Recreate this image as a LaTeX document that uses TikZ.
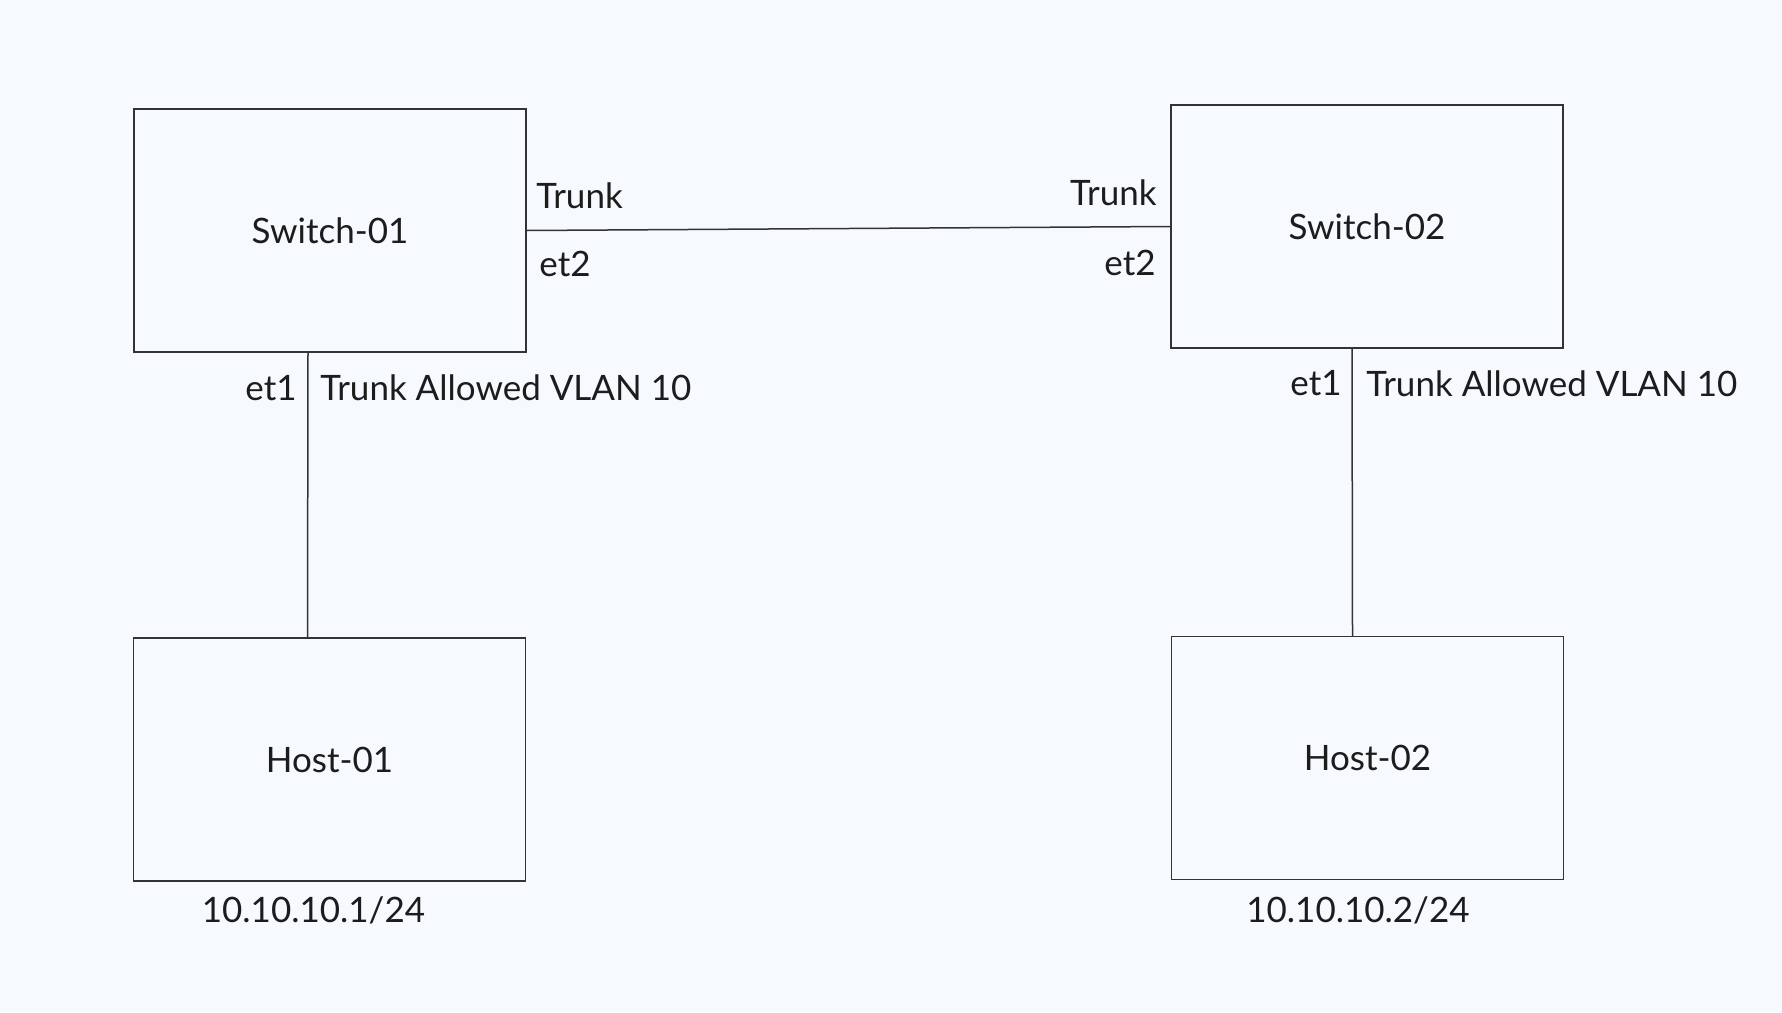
\documentclass[tikz,border=0pt]{standalone}
\usepackage{fontspec}
\setmainfont{Lato}
\definecolor{bg}{RGB}{246,249,253}
\definecolor{ln}{RGB}{51,51,51}
\definecolor{tx}{RGB}{28,28,28}
\begin{document}
\begin{tikzpicture}[x=0.5pt,y=-0.5pt,
  box/.style={draw=ln, line width=0.75pt, minimum width=196pt, minimum height=121.5pt, inner sep=0pt, text=tx, font=\fontsize{17.5}{21}\selectfont},
  lbl/.style={inner sep=0pt, text=tx, font=\fontsize{17.5}{21}\selectfont},
  link/.style={draw=ln, line width=0.75pt}]
\fill[bg] (0,0) rectangle (1782,1012);
\useasboundingbox (0,0) rectangle (1782,1012);
\node[box] (s1) at (330,230.5) {Switch-01};
\node[box] (s2) at (1367,226.5) {Switch-02};
\node[box] (h1) at (329.5,759.5) {Host-01};
\node[box] (h2) at (1367.5,758) {Host-02};
\draw[link] (s1.east) -- (s2.west);
\draw[link] ([xshift=-11pt]s1.south) -- ([xshift=-11pt]h1.north);
\draw[link] ([xshift=-7.5pt]s2.south) -- ([xshift=-7.5pt]h2.north);
\node[lbl, anchor=west] (t1) at (536,195.5) {Trunk};
\node[lbl, anchor=west] (e21) at (539,263.5) {et2};
\node[lbl, anchor=east] (t2) at (1157,193) {Trunk};
\node[lbl, anchor=east] (e22) at (1156,262.5) {et2};
\node[lbl, anchor=east] (e11) at (297,388.5) {et1};
\node[lbl, anchor=west] (v1) at (320,387.5) {Trunk Allowed VLAN 10};
\node[lbl, anchor=east] (e12) at (1342,383) {et1};
\node[lbl, anchor=west] (v2) at (1366,384) {Trunk Allowed VLAN 10};
\node[lbl] (ip1) at (313.5,910) {10.10.10.1/24};
\node[lbl] (ip2) at (1358,910) {10.10.10.2/24};
\end{tikzpicture}
\end{document}
